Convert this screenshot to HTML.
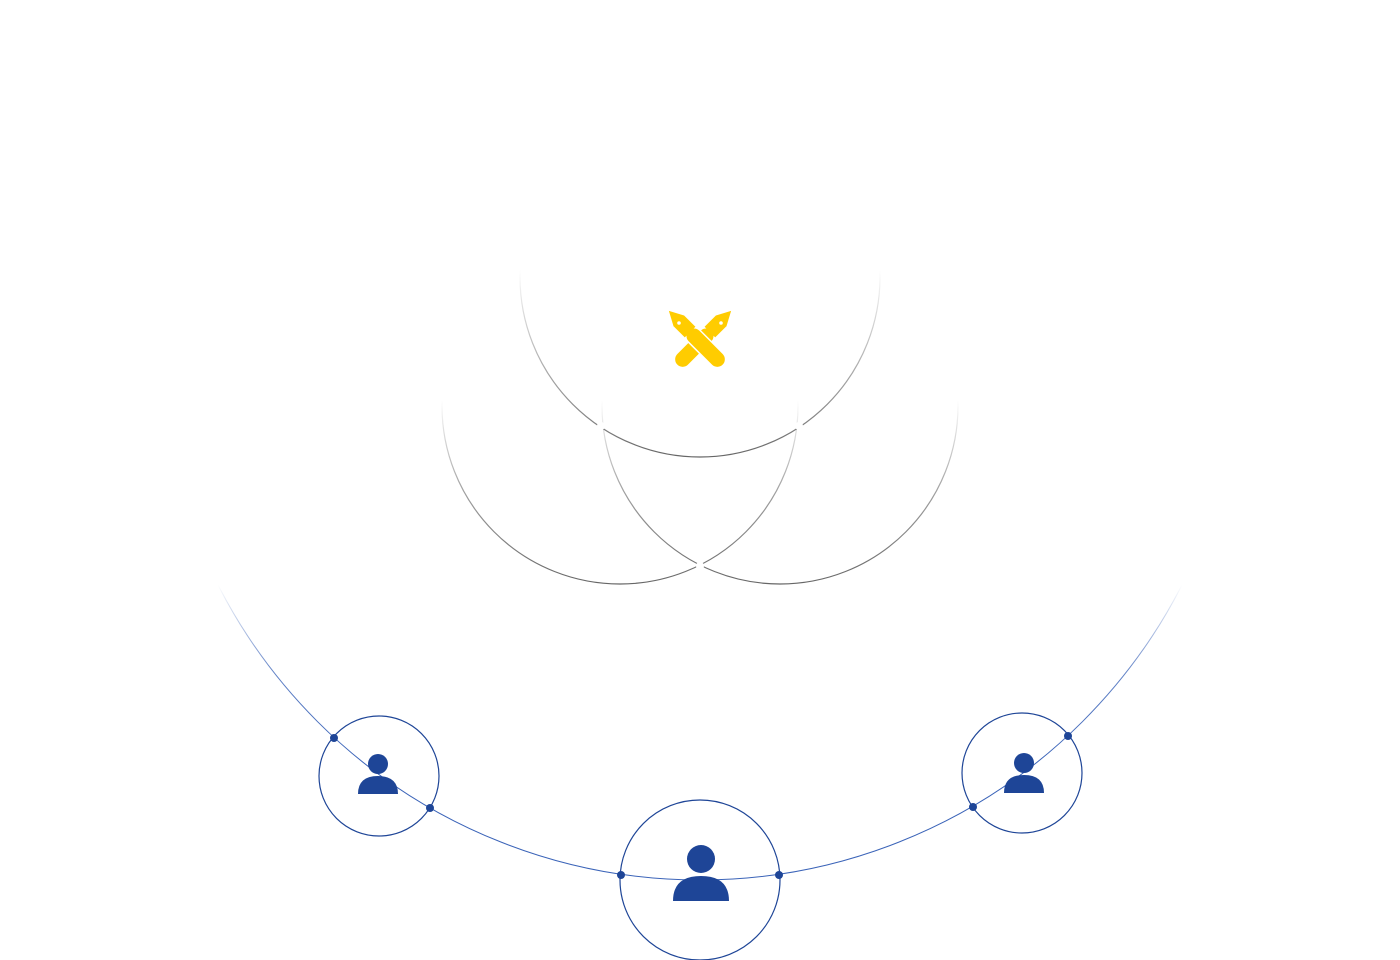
<!DOCTYPE html>
<html><head><style>html,body{margin:0;padding:0;background:#fff}svg{display:block}</style></head>
<body>
<svg width="1400" height="960" viewBox="0 0 1400 960" xmlns="http://www.w3.org/2000/svg">
<defs>
<linearGradient id="gt" gradientUnits="userSpaceOnUse" x1="0" y1="270" x2="0" y2="457">
<stop offset="0" stop-color="#777" stop-opacity="0"/><stop offset="0.6" stop-color="#777" stop-opacity="0.7"/><stop offset="1" stop-color="#666"/></linearGradient>
<linearGradient id="gs" gradientUnits="userSpaceOnUse" x1="0" y1="400" x2="0" y2="584">
<stop offset="0" stop-color="#777" stop-opacity="0"/><stop offset="0.5" stop-color="#777" stop-opacity="0.7"/><stop offset="1" stop-color="#666"/></linearGradient>
<linearGradient id="gb" gradientUnits="userSpaceOnUse" x1="0" y1="585" x2="0" y2="760">
<stop offset="0" stop-color="#3a63b8" stop-opacity="0"/><stop offset="0.5" stop-color="#3a63b8" stop-opacity="0.8"/><stop offset="1" stop-color="#3a63b8"/></linearGradient>
</defs>
<circle cx="700" cy="339" r="541" fill="none" stroke="url(#gb)" stroke-width="1"/>
<circle cx="620" cy="406" r="178" fill="none" stroke="url(#gs)" stroke-width="1.2"/>
<circle cx="780" cy="406" r="178" fill="none" stroke="url(#gs)" stroke-width="1.2"/>
<circle cx="700" cy="277" r="180" fill="none" stroke="url(#gt)" stroke-width="1.2"/>
<g fill="#fff">
<circle cx="700" cy="566" r="4"/>
<circle cx="601" cy="426" r="4"/>
<circle cx="799" cy="426" r="4"/>
</g>
<g fill="#fff" stroke="#1e4597" stroke-width="1.2">
<circle cx="379" cy="776" r="60" fill="none"/>
<circle cx="1022" cy="773" r="60" fill="none"/>
<circle cx="700" cy="880" r="80" fill="none"/>
</g>
<g fill="#1e4597">
<circle cx="334" cy="738" r="4"/><circle cx="430" cy="808" r="4"/>
<circle cx="973" cy="807" r="4"/><circle cx="1068" cy="736" r="4"/>
<circle cx="621" cy="875" r="4"/><circle cx="779" cy="875" r="4"/>
<circle cx="378" cy="764" r="10"/><path d="M358 794 Q358 776 378 776 Q398 776 398 794 Z"/>
<circle cx="1024" cy="763" r="10"/><path d="M1004 793 Q1004 775 1024 775 Q1044 775 1044 793 Z"/>
<circle cx="701" cy="859" r="14"/><path d="M673 901 Q673 876 701 876 Q729 876 729 901 Z"/>
</g>
<g fill="#ffcc00">
<g transform="translate(700,342) rotate(45)">
<rect x="-7.5" y="-16" width="15" height="48" rx="7.5"/>
<path d="M-7.5 -14 L-7.5 -30 L0 -44 L7.5 -30 L7.5 -14 Z"/>
</g>
<g transform="translate(700,342) rotate(-45)">
<rect x="-9" y="-16" width="18" height="48" rx="8" fill="#fff"/>
<rect x="-7.5" y="-16" width="15" height="48" rx="7.5"/>
<path d="M-7.5 -14 L-7.5 -30 L0 -44 L7.5 -30 L7.5 -14 Z"/>
</g>
<circle cx="679" cy="323" r="1.8" fill="#fff"/><circle cx="721" cy="323" r="1.8" fill="#fff"/>
</g>
</svg>
</body></html>
